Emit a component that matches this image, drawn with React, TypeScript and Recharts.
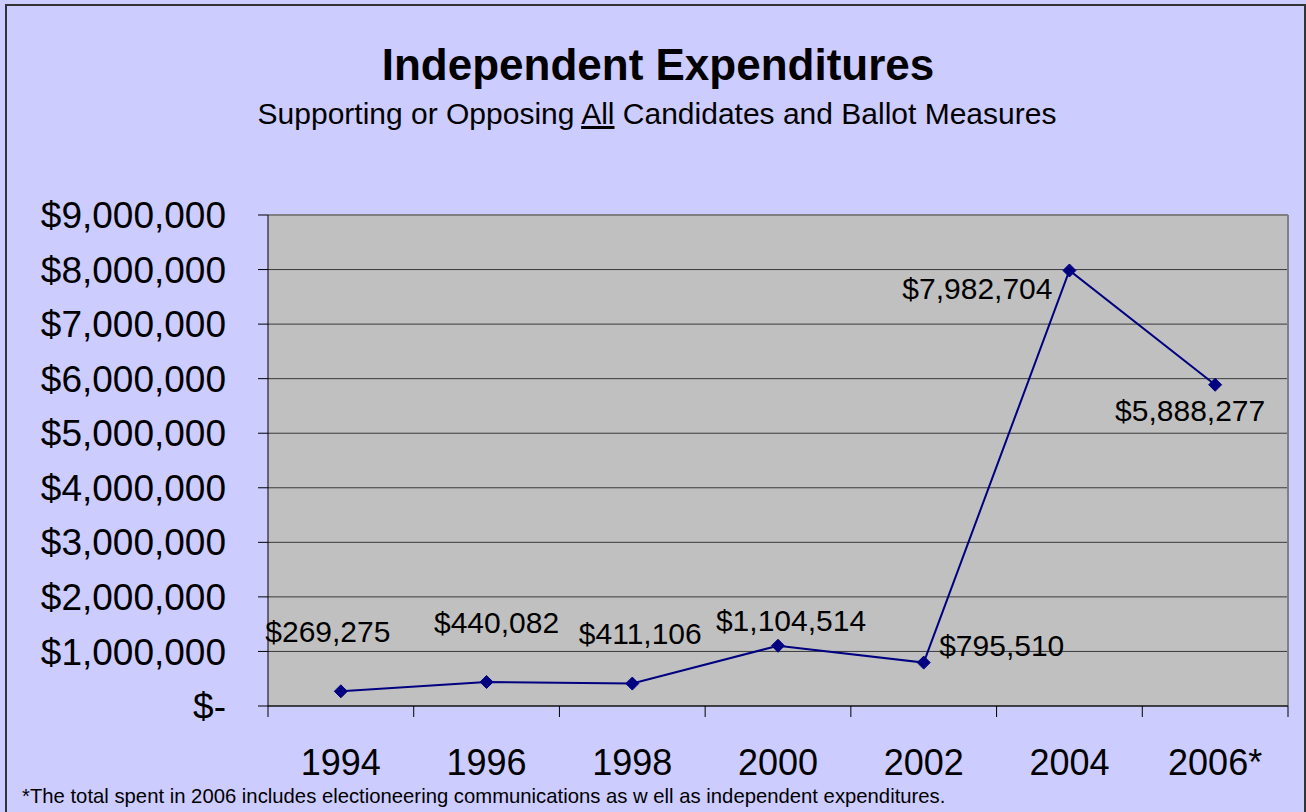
import React from 'react';
import { LineChart, Line, XAxis, YAxis, CartesianGrid, LabelList } from 'recharts';

const years = ['1994', '1996', '1998', '2000', '2002', '2004', '2006*'];
const totals = [269275, 440082, 411106, 1104514, 795510, 7982704, 5888277];
const yTicks = [0, 1000000, 2000000, 3000000, 4000000, 5000000, 6000000, 7000000, 8000000, 9000000];
const labelTexts = ['$269,275', '$440,082', '$411,106', '$1,104,514', '$795,510', '$7,982,704', '$5,888,277'];

const data = years.map((year, i) => ({ year, total: totals[i], label: labelTexts[i] }));

// label placement relative to each point (dx, dy of text baseline centre)
const LABEL_OFFSETS: [number, number][] = [
  [-13, -49],
  [10, -49],
  [8, -40],
  [13, -15],
  [78, -7],
  [-92, 29],
  [-25, 36],
];

const FONT = '"Liberation Sans", Arial, sans-serif';

const fmt = (v: number) => (v === 0 ? '$-' : '$' + v.toLocaleString('en-US'));

const XTick = (props: any) => {
  const { x, y, payload, index, visibleTicksCount, width } = props;
  let half = payload && typeof payload.offset === 'number' ? payload.offset : 0;
  if (!half && width && visibleTicksCount) half = width / visibleTicksCount / 2;
  const last = index === visibleTicksCount - 1;
  return (
    <g>
      <line x1={x - half} x2={x - half} y1={y} y2={y + 11} stroke="#000" strokeWidth={1} />
      {last && <line x1={x + half} x2={x + half} y1={y} y2={y + 11} stroke="#000" strokeWidth={1} />}
      <text x={x} y={y + 69} textAnchor="middle" fontSize={36} fontFamily={FONT} fill="#000">
        {payload.value}
      </text>
    </g>
  );
};

const Diamond = (props: any) => {
  const { cx, cy } = props;
  if (cx == null || cy == null) return null;
  const r = 6.5;
  return (
    <path
      d={`M${cx},${cy - r} L${cx + r},${cy} L${cx},${cy + r} L${cx - r},${cy} Z`}
      fill="#000080"
      stroke="#000080"
      strokeWidth={1}
    />
  );
};

const DataLabel = (props: any) => {
  const { x, y, value, index } = props;
  const [dx, dy] = LABEL_OFFSETS[index] || [0, -20];
  return (
    <text x={x + dx} y={y + dy} textAnchor="middle" fontSize={30} fontFamily={FONT} fill="#000">
      {value}
    </text>
  );
};

export default function App() {
  return (
    <div
      style={{
        position: 'absolute',
        left: 0,
        top: 0,
        width: 1306,
        height: 812,
        background: '#CCCCFF',
        fontFamily: FONT,
        overflow: 'hidden',
      }}
    >
      <LineChart
        width={1306}
        height={812}
        data={data}
        margin={{ top: 215, right: 18, bottom: 0, left: 0 }}
      >
        <CartesianGrid vertical={false} stroke="#3a3a3a" strokeWidth={1} fill="#C0C0C0" fillOpacity={1} />
        <CartesianGrid
          horizontal={false}
          vertical={true}
          stroke="#808080"
          strokeWidth={2}
          verticalCoordinatesGenerator={({ offset }: any) => [offset.left + offset.width]}
        />
        <CartesianGrid
          horizontal={true}
          vertical={false}
          stroke="#808080"
          strokeWidth={2}
          horizontalCoordinatesGenerator={({ offset }: any) => [offset.top]}
        />
        <XAxis
          dataKey="year"
          scale="band"
          interval={0}
          height={106}
          tickLine={false}
          tickSize={0}
          tickMargin={0}
          axisLine={{ stroke: '#000', strokeWidth: 1 }}
          tick={<XTick />}
        />
        <YAxis
          width={268}
          domain={[0, 9000000]}
          ticks={yTicks}
          interval={0}
          tickFormatter={fmt}
          tickSize={10}
          tickMargin={32}
          axisLine={{ stroke: '#000', strokeWidth: 1 }}
          tickLine={{ stroke: '#000', strokeWidth: 1 }}
          tick={{ fontSize: 37, fill: '#000', fontFamily: FONT }}
        />
        <Line
          dataKey="total"
          stroke="#000080"
          strokeWidth={2}
          dot={<Diamond />}
          activeDot={false}
          isAnimationActive={false}
        >
          <LabelList dataKey="label" content={<DataLabel />} />
        </Line>
      </LineChart>
      <svg
        width={1306}
        height={812}
        style={{ position: 'absolute', left: 0, top: 0, pointerEvents: 'none' }}
      >
        <rect x={6} y={5} width={1299} height={830} fill="none" stroke="#333" strokeWidth={2} />
        <text x={658} y={80} textAnchor="middle" fontSize={44} fontWeight="bold" fontFamily={FONT} fill="#000">
          Independent Expenditures
        </text>
        <text x={657} y={124} textAnchor="middle" fontSize={30} fontFamily={FONT} fill="#000">
          Supporting or Opposing <tspan textDecoration="underline" style={{ textDecoration: 'underline' }}>All</tspan> Candidates and Ballot Measures
        </text>
        <text x={22} y={803} fontSize={20.3} fontFamily={FONT} fill="#000">
          *The total spent in 2006 includes electioneering communications as w ell as independent expenditures.
        </text>
      </svg>
    </div>
  );
}
